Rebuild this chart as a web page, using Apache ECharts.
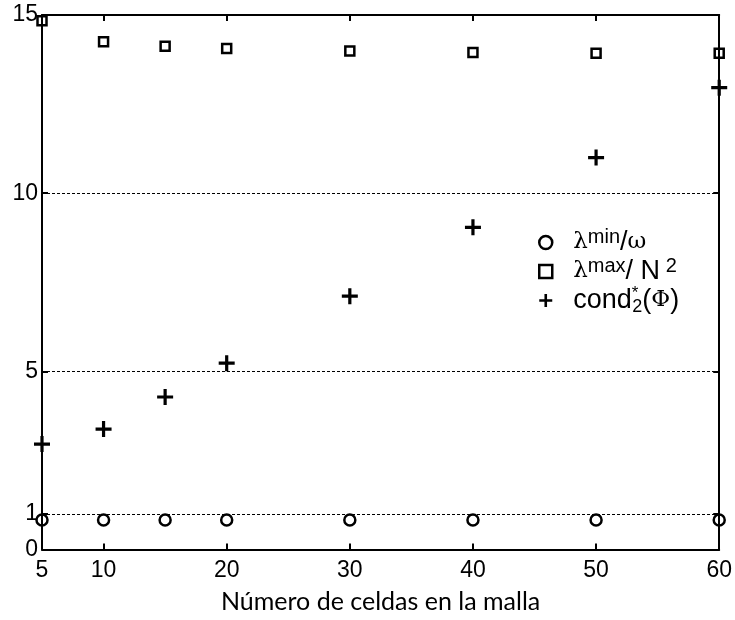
<!DOCTYPE html>
<html>
<head>
<meta charset="utf-8">
<script src="https://cdn.jsdelivr.net/npm/echarts@6/dist/echarts.min.js"></script>
<style>
  html, body { margin: 0; padding: 0; background: #fff; }
  #chart { width: 735px; height: 620px; }
</style>
</head>
<body>
<div id="chart"></div>
<script>
// Mesh sizes (number of cells)
const cells = [5, 10, 15, 20, 30, 40, 50, 60];
// lambda_min / omega
const lambdaMinRatio = [0.83, 0.83, 0.83, 0.83, 0.83, 0.83, 0.83, 0.83];
// lambda_max / N^2
const lambdaMaxRatio = [14.84, 14.25, 14.12, 14.06, 13.99, 13.95, 13.93, 13.93];
// cond_2^*(Phi)
const condNumber = [2.96, 3.38, 4.28, 5.23, 7.11, 9.04, 11.0, 12.96];

const xTicks = [5, 10, 20, 30, 40, 50, 60];
const yTicks = [0, 1, 5, 10, 15];
const refLines = [1, 5, 10];

const SANS = 'Liberation Sans';
const SERIF = 'DejaVu Serif';

const pair = v => v.map((y, i) => [cells[i], y]);
const plusPath = 'path://M4,0H6V4H10V6H6V10H4V6H0V4H4Z';

const axisLine = { show: true, onZero: false, lineStyle: { color: '#000', width: 2 } };
const tickStyle = (vals) => ({ show: true, inside: true, length: 6, customValues: vals, lineStyle: { color: '#000', width: 2 } });

const LH = 31;
const rich = {
  t:   { fontFamily: SANS,  fontSize: 27, color: '#000', lineHeight: LH, verticalAlign: 'middle' },
  g:   { fontFamily: SERIF, fontSize: 23, color: '#000', lineHeight: LH, verticalAlign: 'middle', padding: [0, 0, 0, 16] },
  gs:  { fontFamily: SERIF, fontSize: 23, color: '#000', lineHeight: LH, verticalAlign: 'middle' },
  sup: { fontFamily: SANS,  fontSize: 20, color: '#000', lineHeight: 18, verticalAlign: 'top' },
  sub: { fontFamily: SANS,  fontSize: 18, color: '#000', lineHeight: 18, verticalAlign: 'bottom' },
  st:  { fontFamily: SANS,  fontSize: 17, color: '#000', lineHeight: 16, verticalAlign: 'top', width: 0.5 },
  c:   { fontFamily: SANS,  fontSize: 27, color: '#000', lineHeight: LH, verticalAlign: 'middle', padding: [0, 0, 0, 16] }
};

const labels = {
  lmin: '{g|λ}{sup|min}{t|/}{gs|ω}',
  lmax: '{g|λ}{sup|max}{t|/ N}{sup| 2}',
  cond: '{c|cond}{st|*}{sub|2}{t|(}{gs|Φ}{t|)}'
};

const hollow = { color: 'rgba(0,0,0,0)', borderColor: '#000', borderWidth: 2.5, opacity: 1 };

const chart = echarts.init(document.getElementById('chart'), null, { renderer: 'canvas' });
chart.setOption({
  animation: false,
  backgroundColor: '#fff',
  grid: { left: 42, top: 15, width: 678, height: 534.5, containLabel: false },
  legend: {
    orient: 'vertical',
    left: 533,
    top: 222,
    itemWidth: 13,
    itemHeight: 13,
    itemGap: 0,
    selectedMode: false,
    data: [
      { name: 'lmin', itemStyle: { borderWidth: 2.5, borderColor: '#000' } },
      { name: 'lmax', itemStyle: { borderWidth: 2.5, borderColor: '#000' } },
      { name: 'cond' }
    ],
    formatter: name => labels[name],
    textStyle: { rich }
  },
  xAxis: [
    {
      type: 'value', min: 5, max: 60, position: 'bottom',
      name: 'Número de celdas en la malla', nameLocation: 'middle', nameGap: 40,
      nameTextStyle: { fontFamily: 'Lato', fontSize: 25, color: '#000' },
      axisLine, axisTick: tickStyle(xTicks), splitLine: { show: false },
      axisLabel: { customValues: xTicks, color: '#000', fontFamily: SANS, fontSize: 23, margin: 10 }
    },
    {
      type: 'value', min: 5, max: 60, position: 'top',
      axisLine, axisTick: tickStyle(xTicks), splitLine: { show: false }, axisLabel: { show: false }
    }
  ],
  yAxis: [
    {
      type: 'value', min: 0, max: 15, position: 'left',
      axisLine, axisTick: tickStyle(yTicks), splitLine: { show: false },
      axisLabel: { customValues: yTicks, color: '#000', fontFamily: SANS, fontSize: 23, margin: 4 }
    },
    {
      type: 'value', min: 0, max: 15, position: 'right',
      axisLine, axisTick: tickStyle(yTicks), splitLine: { show: false }, axisLabel: { show: false }
    }
  ],
  series: [
    {
      name: 'lmin', type: 'scatter', data: pair(lambdaMinRatio), clip: false,
      symbol: 'circle', symbolSize: 11,
      itemStyle: hollow,
      markLine: {
        silent: true, symbol: 'none', label: { show: false }, animation: false,
        lineStyle: { color: '#000', width: 1, type: [3, 2], opacity: 1 },
        data: refLines.map(v => ({ yAxis: v }))
      },
      z: 3
    },
    {
      name: 'lmax', type: 'scatter', data: pair(lambdaMaxRatio), clip: false,
      symbol: 'rect', symbolSize: 9,
      itemStyle: hollow,
      z: 3
    },
    {
      name: 'cond', type: 'scatter', data: pair(condNumber), clip: false,
      symbol: plusPath, symbolSize: 16,
      itemStyle: { color: '#000', opacity: 1 },
      z: 3
    }
  ]
});
</script>
</body>
</html>
